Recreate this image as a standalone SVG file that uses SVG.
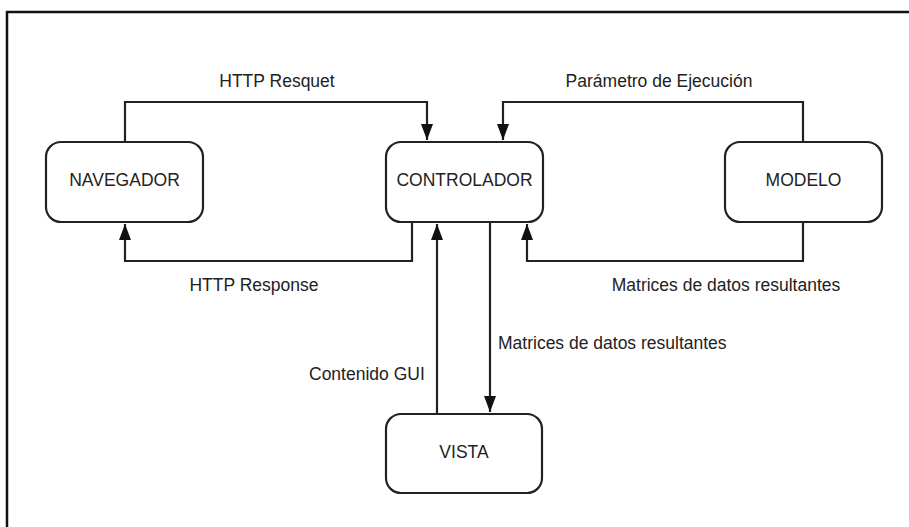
<svg xmlns="http://www.w3.org/2000/svg" width="909" height="527" viewBox="0 0 909 527">
<style>
.node{fill:#fff;stroke:#222;stroke-width:2.2}
.lbl{font-family:"Liberation Sans",Arial,sans-serif;font-size:17.5px;fill:#222}
.c{text-anchor:middle}
.edge{fill:none;stroke:#222;stroke-width:2.2}
</style>
<defs>
<marker id="arr" markerWidth="16" markerHeight="12" refX="16" refY="6" viewBox="0 0 16 12" orient="auto" markerUnits="userSpaceOnUse">
<path d="M0,0 L16,6 L0,12 Z" fill="#111"/>
</marker>
</defs>
<rect width="909" height="527" fill="#fff"/>
<path d="M7,527 V12 H909" fill="none" stroke="#111" stroke-width="2.5"/>
<g id="connectors">
<path class="edge" d="M125,142 V102 H427 V140" marker-end="url(#arr)"/>
<path class="edge" d="M803,142 V102 H503 V140" marker-end="url(#arr)"/>
<path class="edge" d="M412,222 V261 H125 V224" marker-end="url(#arr)"/>
<path class="edge" d="M803,222 V261 H527 V224" marker-end="url(#arr)"/>
<path class="edge" d="M437,414 V224" marker-end="url(#arr)"/>
<path class="edge" d="M490,222 V412" marker-end="url(#arr)"/>
<text class="lbl c" x="277" y="87">HTTP Resquet</text>
<text class="lbl c" x="659" y="87">Parámetro de Ejecución</text>
<text class="lbl c" x="254" y="291">HTTP Response</text>
<text class="lbl c" x="726" y="291">Matrices de datos resultantes</text>
<text class="lbl" x="498" y="349">Matrices de datos resultantes</text>
<text class="lbl" x="309" y="380">Contenido GUI</text>
</g>
<g id="navegador">
<rect class="node" x="46" y="142" width="157" height="80" rx="15"/>
<text class="lbl c" x="124.5" y="186">NAVEGADOR</text>
</g>
<g id="controlador">
<rect class="node" x="386" y="142" width="157" height="80" rx="15"/>
<text class="lbl c" x="464.5" y="186">CONTROLADOR</text>
</g>
<g id="modelo">
<rect class="node" x="725" y="142" width="157" height="80" rx="15"/>
<text class="lbl c" x="803.5" y="186">MODELO</text>
</g>
<g id="vista">
<rect class="node" x="386" y="414" width="156" height="79" rx="15"/>
<text class="lbl c" x="464" y="458">VISTA</text>
</g>
</svg>
